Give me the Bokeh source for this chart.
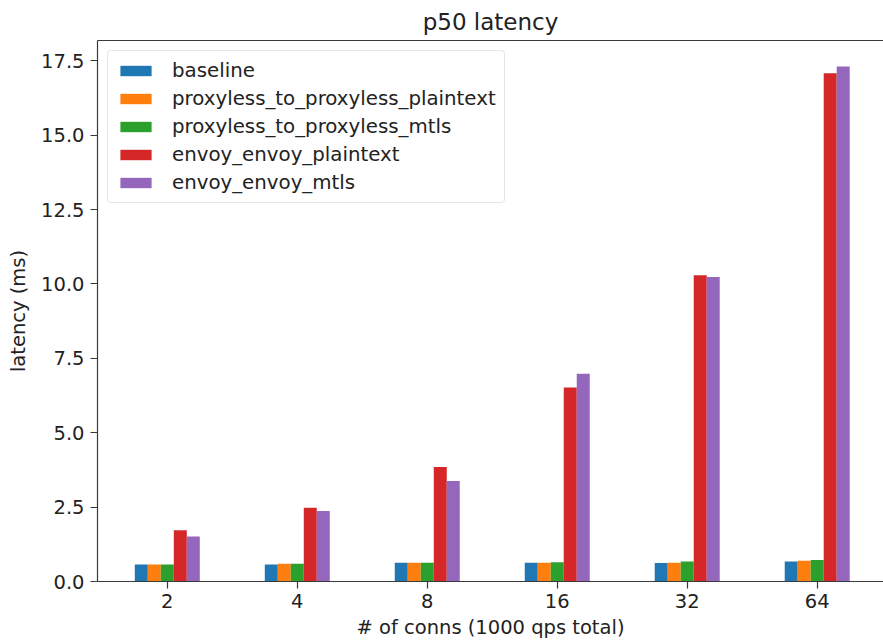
from bokeh.plotting import figure
from bokeh.models import (ColumnDataSource, Range1d, FixedTicker, LinearAxis,
                          Legend, LegendItem, PrintfTickFormatter)
from bokeh.embed import file_html
from bokeh.resources import INLINE

# ---- data ----
conns = ["2", "4", "8", "16", "32", "64"]
series_names = ["baseline", "proxyless_to_proxyless_plaintext",
                "proxyless_to_proxyless_mtls", "envoy_envoy_plaintext",
                "envoy_envoy_mtls"]
baseline = [0.57, 0.57, 0.63, 0.63, 0.62, 0.67]
proxyless_plaintext = [0.57, 0.60, 0.63, 0.63, 0.63, 0.70]
proxyless_mtls = [0.57, 0.60, 0.63, 0.65, 0.67, 0.72]
envoy_plaintext = [1.72, 2.48, 3.85, 6.52, 10.29, 17.08]
envoy_mtls = [1.51, 2.37, 3.38, 6.98, 10.23, 17.31]
y_ticks = [0.0, 2.5, 5.0, 7.5, 10.0, 12.5, 15.0, 17.5]

series_values = [baseline, proxyless_plaintext, proxyless_mtls,
                 envoy_plaintext, envoy_mtls]
colors = ["#1f77b4", "#ff7f0e", "#2ca02c", "#d62728", "#9467bd"]

FONT = "DejaVu Sans"
TXT = "#222222"
SPINE = "#3a3a3a"
bar_w = 0.1
n = len(series_names)

p = figure(width=883, height=641, output_backend="svg", toolbar_location=None,
           x_range=Range1d(-0.537, len(conns) - 1 + 0.51),
           y_range=Range1d(0, 18.18),
           title="p50 latency")
p.min_border = 0
p.min_border_left = 97
p.min_border_right = 0
p.min_border_top = 0
p.min_border_bottom = 0
p.outline_line_color = None
p.xgrid.grid_line_color = None
p.ygrid.grid_line_color = None
p.background_fill_color = "white"
p.border_fill_color = "white"

p.title.text_font = FONT
p.title.text_font_size = "23px"
p.title.text_font_style = "normal"
p.title.text_color = TXT
p.title.align = "center"
p.title.standoff = 12

items = []
for k in range(n):
    xs = [i + (k - (n - 1) / 2) * bar_w for i in range(len(conns))]
    src = ColumnDataSource(dict(x=xs, top=series_values[k]))
    r = p.vbar(x="x", top="top", width=bar_w, bottom=0, source=src,
               fill_color=colors[k], line_color=None)
    items.append(LegendItem(label=series_names[k], renderers=[r]))

# axes
xa = p.xaxis[0]
xa.ticker = FixedTicker(ticks=list(range(len(conns))))
xa.major_label_overrides = {i: c for i, c in enumerate(conns)}
xa.axis_label = "# of conns (1000 qps total)"
ya = p.yaxis[0]
ya.ticker = FixedTicker(ticks=y_ticks)
ya.formatter = PrintfTickFormatter(format="%.1f")
ya.axis_label = "latency (ms)"

for ax in (xa, ya):
    ax.minor_tick_line_color = None
    ax.major_tick_in = 0
    ax.major_tick_out = 7
    ax.major_tick_line_color = SPINE
    ax.major_tick_line_width = 1.2
    ax.axis_line_color = SPINE
    ax.axis_line_width = 1.2
    ax.major_label_text_font = FONT
    ax.major_label_text_font_size = "19.5px"
    ax.major_label_text_color = TXT
    ax.axis_label_text_font = FONT
    ax.axis_label_text_font_size = "19.5px"
    ax.axis_label_text_font_style = "normal"
    ax.axis_label_text_color = TXT
xa.major_label_standoff = 5
xa.axis_label_standoff = 5
ya.major_label_standoff = 6
ya.axis_label_standoff = 8

# top spine
top_ax = LinearAxis(ticker=FixedTicker(ticks=[]), major_tick_out=0,
                    major_tick_in=0, minor_tick_line_color=None,
                    major_label_text_font_size="0px",
                    major_label_standoff=0,
                    axis_line_color=SPINE, axis_line_width=1.2)
p.add_layout(top_ax, "above")

legend = Legend(items=items, location="top_left")
legend.label_text_font = FONT
legend.label_text_font_size = "19.8px"
legend.label_text_color = TXT
legend.glyph_width = 39
legend.glyph_height = 13
legend.label_height = 20
legend.spacing = 5
legend.padding = 8
legend.margin = 10
legend.label_standoff = 17
legend.border_line_color = "#cccccc"
legend.border_line_width = 1
legend.border_radius = 4
legend.background_fill_color = "white"
legend.background_fill_alpha = 0.8
p.add_layout(legend, "center")

open("out.html", "w").write(file_html(p, INLINE))
